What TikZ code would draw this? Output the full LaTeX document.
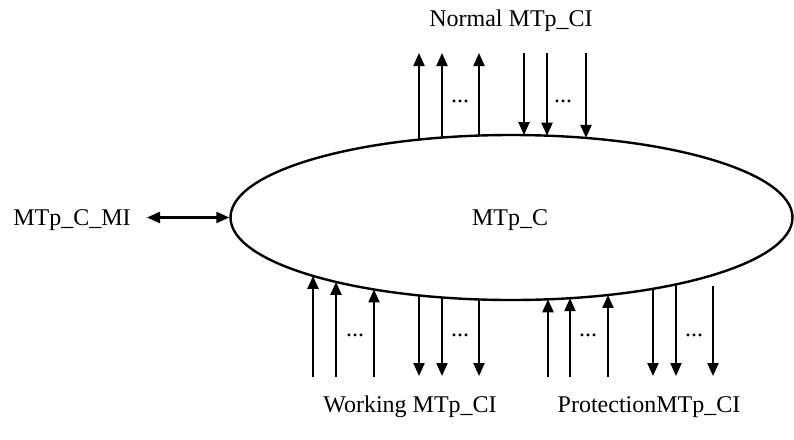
\documentclass[tikz,border=0pt]{standalone}
\usepackage{fontspec}
\setmainfont{Liberation Serif}
\usetikzlibrary{arrows.meta,shapes.geometric}
\newcommand\edgept[3]{\pgfmathsetmacro\ey{217.5+#3*82.5*sqrt(1-((#2-511.5)/281)^2)}\coordinate (#1) at (#2,\ey);}
\begin{document}
\begin{tikzpicture}[x=1pt,y=-1pt,
  arr/.style={line width=2.2pt,-{Triangle[length=13pt,width=11pt]}},
  darr/.style={line width=2.2pt,{Triangle[length=13pt,width=11pt]}-{Triangle[length=13pt,width=11pt]}},
  lbl/.style={font=\fontsize{24}{28}\selectfont,inner sep=0pt,anchor=base},
  dots/.style={font=\fontsize{24}{28}\selectfont,inner sep=0pt,anchor=base}]
\useasboundingbox (0,0) rectangle (794,439);
\node[ellipse,draw,line width=2.4pt,minimum width=562pt,minimum height=165pt,inner sep=0pt] (C) at (511.5,217.5) {};
\node[lbl] (Clbl) at (510,225) {MTp\_C};
\node[lbl] (mi) at (72,225) {MTp\_C\_MI};
\coordinate (mie) at (147,217.5);
\draw[darr] (mie) -- (C.west);
% top
\node[lbl] (normal) at (511,26) {Normal MTp\_CI};
\foreach \n/\x in {1/419,2/442,3/479}{
  \edgept{tu\n}{\x}{-1}
  \coordinate (tue\n) at (\x,53);
  \draw[arr] (tu\n) -- (tue\n);
}
\foreach \n/\x in {1/524,2/547,3/586}{
  \edgept{td\n}{\x}{-1}
  \coordinate (tds\n) at (\x,53);
  \draw[arr] (tds\n) -- (td\n);
}
\node[dots] (d1) at (460,102.5) {...};
\node[dots] (d2) at (563,102.5) {...};
% bottom working
\node[lbl] (working) at (410,412) {Working MTp\_CI};
\foreach \n/\x in {1/313,2/336,3/374}{
  \edgept{wu\n}{\x}{1}
  \coordinate (wus\n) at (\x,377);
  \draw[arr] (wus\n) -- (wu\n);
}
\foreach \n/\x in {1/419,2/442,3/479}{
  \edgept{wd\n}{\x}{1}
  \coordinate (wde\n) at (\x,376);
  \draw[arr] (wd\n) -- (wde\n);
}
\node[dots] (d3) at (355,336) {...};
\node[dots] (d4) at (460,336) {...};
% bottom protection
\node[lbl] (prot) at (649,412) {ProtectionMTp\_CI};
\foreach \n/\x in {1/548,2/570,3/608}{
  \edgept{pu\n}{\x}{1}
  \coordinate (pus\n) at (\x,377);
  \draw[arr] (pus\n) -- (pu\n);
}
\foreach \n/\x in {1/653,2/676}{
  \edgept{pd\n}{\x}{1}
  \coordinate (pde\n) at (\x,376);
  \draw[arr] (pd\n) -- (pde\n);
}
\coordinate (pd3) at (713,286);
\coordinate (pde3) at (713,376);
\draw[arr] (pd3) -- (pde3);
\node[dots] (d5) at (588,336) {...};
\node[dots] (d6) at (694,336) {...};
\end{tikzpicture}
\end{document}
